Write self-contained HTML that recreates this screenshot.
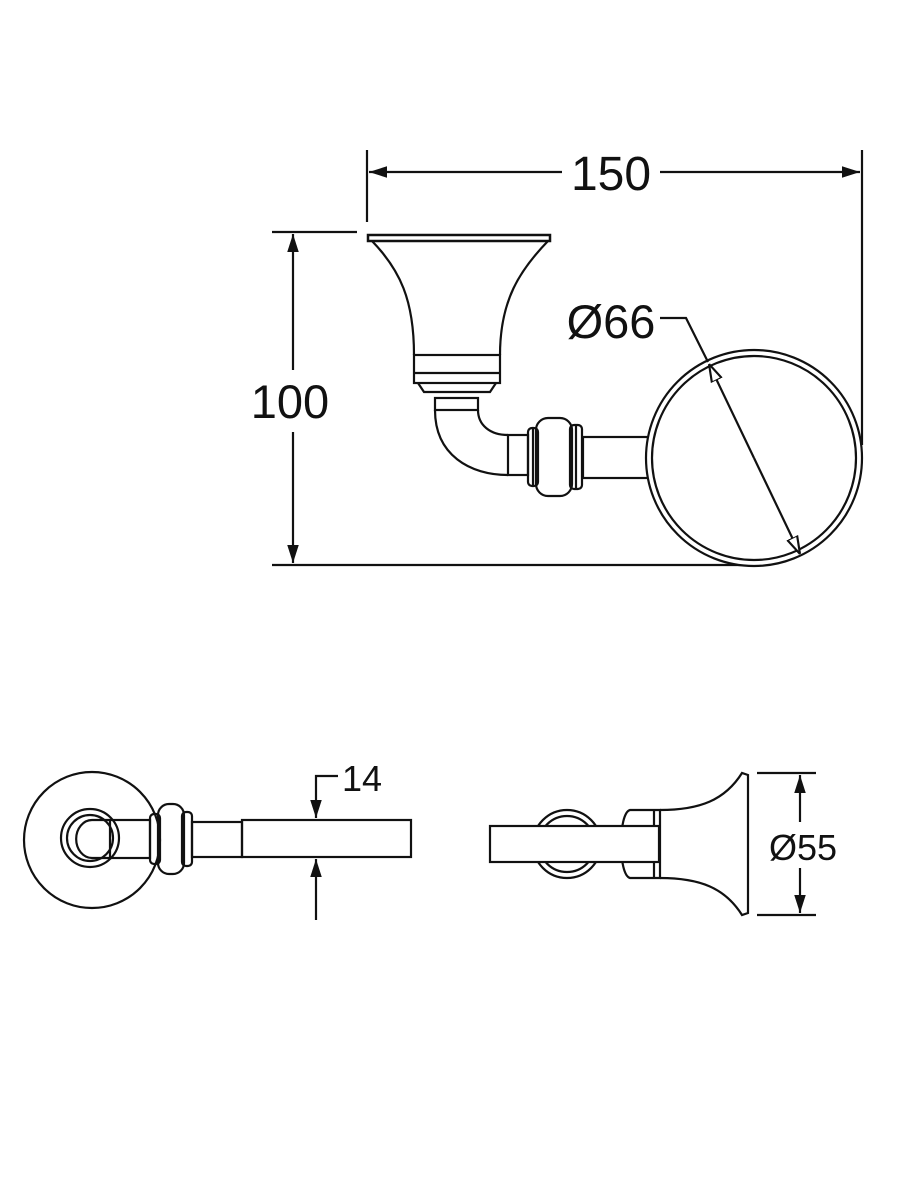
<!DOCTYPE html>
<html><head><meta charset="utf-8"><style>
html,body{margin:0;padding:0;background:#fff}
svg{display:block}
text{font-family:"Liberation Sans",sans-serif;fill:#111}
</style></head><body>
<svg width="900" height="1200" viewBox="0 0 900 1200" xmlns="http://www.w3.org/2000/svg">
<defs>
<marker id="a" viewBox="0 0 10 10" refX="10" refY="5" markerWidth="18" markerHeight="18" markerUnits="userSpaceOnUse" orient="auto"><path d="M0,1.8 L10,5 L0,8.2 Z" fill="#111"/></marker>
<marker id="o" viewBox="0 0 10 10" refX="10" refY="5" markerWidth="18" markerHeight="18" markerUnits="userSpaceOnUse" orient="auto"><path d="M0,2 L10,5 L0,8 Z" fill="#fff" stroke="#111" stroke-width="1.2"/></marker>
</defs>
<g fill="none" stroke="#111" stroke-width="2.2">
<line x1="367" y1="150" x2="367" y2="222"/>
<line x1="862" y1="150" x2="862" y2="445"/>
<line x1="562" y1="172" x2="369" y2="172" marker-end="url(#a)"/>
<line x1="660" y1="172" x2="860" y2="172" marker-end="url(#a)"/>
<line x1="272" y1="232" x2="357" y2="232"/>
<line x1="272" y1="565" x2="760" y2="565"/>
<line x1="293" y1="370" x2="293" y2="234" marker-end="url(#a)"/>
<line x1="293" y1="432" x2="293" y2="563" marker-end="url(#a)"/>
<path d="M368,235 L550,235 L550,241 L368,241 Z" stroke-width="2.5"/>
<path d="M372,241 C400,270 414,300 414,355 M548,241 C520,270 500,300 500,355"/>
<rect x="414" y="355" width="86" height="28"/>
<line x1="414" y1="373" x2="500" y2="373"/>
<path d="M418,383 L424,392 L490,392 L496,383"/>
<rect x="435" y="398" width="43" height="12"/>
<path d="M435,410 C435,455 470,475 508,475 M478,410 C478,425 490,435 508,435"/>
<rect x="508" y="435" width="20" height="40"/>
<rect x="528" y="428" width="10" height="58" rx="4"/>
<rect x="536" y="418" width="36" height="78" rx="12"/>
<rect x="570" y="425" width="12" height="64" rx="4"/>
<line x1="533" y1="428" x2="533" y2="486"/>
<line x1="576" y1="425" x2="576" y2="489"/>
<rect x="583" y="437" width="65" height="41"/>
<circle cx="754" cy="458" r="108" fill="#fff"/>
<circle cx="754" cy="458" r="102"/>
<path d="M660,318 L686,318 L708,362"/>
<line x1="754" y1="458" x2="709" y2="364" marker-end="url(#o)"/>
<line x1="754" y1="458" x2="800" y2="554" marker-end="url(#o)"/>
<circle cx="92" cy="840" r="68"/>
<circle cx="90" cy="838" r="29"/>
<circle cx="90" cy="838" r="23"/>
<path d="M110,820 L92,820 A15,18 0 0 0 92,858 L110,858"/>
<rect x="110" y="820" width="40" height="38"/>
<rect x="150" y="814" width="10" height="50" rx="4"/>
<rect x="158" y="804" width="26" height="70" rx="11"/>
<rect x="182" y="812" width="10" height="54" rx="4"/>
<rect x="192" y="822" width="50" height="35"/>
<rect x="242" y="820" width="169" height="37"/>
<path d="M338,776 L316,776 L316,818" marker-end="url(#a)"/>
<line x1="316" y1="920" x2="316" y2="859" marker-end="url(#a)"/>
<circle cx="567" cy="844" r="34"/>
<circle cx="567" cy="844" r="28"/>
<path d="M630,810 L660,810 L660,878 L630,878 C618,875 618,813 630,810 Z" fill="#fff"/>
<line x1="654" y1="810" x2="654" y2="878"/>
<path d="M660,810 C700,810 725,800 742,773 L748,775 L748,913 L742,915 C725,888 700,878 660,878"/>
<rect x="490" y="826" width="169" height="36" fill="#fff"/>
<line x1="757" y1="773" x2="816" y2="773"/>
<line x1="757" y1="915" x2="816" y2="915"/>
<line x1="800" y1="822" x2="800" y2="775" marker-end="url(#a)"/>
<line x1="800" y1="868" x2="800" y2="913" marker-end="url(#a)"/>
</g>
<text x="611" y="190" font-size="48" text-anchor="middle">150</text>
<text x="290" y="418" font-size="47" text-anchor="middle">100</text>
<text x="611" y="338" font-size="47" text-anchor="middle">Ø66</text>
<text x="362" y="791" font-size="36" text-anchor="middle">14</text>
<text x="803" y="860" font-size="36" text-anchor="middle">Ø55</text>
</svg>
</body></html>
